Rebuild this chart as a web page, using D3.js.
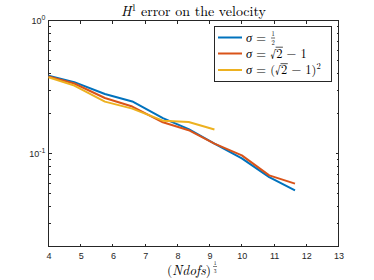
<!DOCTYPE html>
<html><head><meta charset="utf-8">
<script src="https://cdn.jsdelivr.net/npm/d3@7"></script>
<style>body{margin:0;background:#fff}svg{display:block}</style>
</head><body>
<svg id="c" width="374" height="280"></svg>
<script>
const xs = [4, 4.8, 5.75, 6.6, 7.55, 8.35, 9.15, 10, 10.85, 11.65];
const blue = [0.385, 0.345, 0.281, 0.247, 0.185, 0.153, 0.119, 0.092, 0.0666, 0.0529];
const red = [0.38, 0.337, 0.262, 0.226, 0.172, 0.150, 0.119, 0.097, 0.0686, 0.0594];
const yellow = [0.375, 0.325, 0.246, 0.218, 0.177, 0.173, 0.152];
const xTicks = [4,5,6,7,8,9,10,11,12,13];
const yMajor = [1, 0.1];
const yExps = ["0", "-1"];
const yMinor = [0.02,0.03,0.04,0.05,0.06,0.07,0.08,0.09,0.2,0.3,0.4,0.5,0.6,0.7,0.8,0.9];

const svg = d3.select("#c");
const L=48.5, R=338.5, T=20.7, B=246.5;
const x = d3.scaleLinear().domain([4,13]).range([L,R]);
const y = d3.scaleLog().domain([0.02,1]).range([B,T]);
const ax = "#262626";
const tf = "Helvetica, Arial, 'Liberation Sans', sans-serif";
const serif = "'Latin Modern Roman','CMU Serif','Liberation Serif',serif";

// box
svg.append("rect").attr("x",L).attr("y",T).attr("width",R-L).attr("height",B-T)
  .attr("fill","#fff").attr("stroke",ax).attr("stroke-width",1).attr("shape-rendering","crispEdges");

// x ticks
const xa = d3.axisBottom(x).tickValues(xTicks).tickSize(0).tickFormat(d3.format("d"));
const gx = svg.append("g").attr("transform",`translate(0,${B})`).call(xa);
gx.select(".domain").remove();
gx.selectAll("text").attr("font-family",tf).attr("font-size",9).attr("fill",ax).attr("dy","1.05em");
xTicks.forEach(t=>{
  svg.append("line").attr("x1",x(t)).attr("x2",x(t)).attr("y1",B).attr("y2",B-3).attr("stroke",ax).attr("shape-rendering","crispEdges");
  svg.append("line").attr("x1",x(t)).attr("x2",x(t)).attr("y1",T).attr("y2",T+3).attr("stroke",ax).attr("shape-rendering","crispEdges");
});
// y ticks
yMajor.forEach((t,i)=>{
  [[L,L+3],[R,R-3]].forEach(p=>svg.append("line").attr("x1",p[0]).attr("x2",p[1]).attr("y1",y(t)).attr("y2",y(t)).attr("stroke",ax).attr("shape-rendering","crispEdges"));
  const tx = svg.append("text").attr("x",L-3).attr("y",y(t)+3.5).attr("text-anchor","end")
    .attr("font-family",tf).attr("font-size",9).attr("fill",ax);
  tx.append("tspan").text("10");
  tx.append("tspan").attr("dy",-4).attr("font-size",7).text(yExps[i]);
});
yMinor.forEach(t=>{
  [[L,L+2],[R,R-2]].forEach(p=>svg.append("line").attr("x1",p[0]).attr("x2",p[1]).attr("y1",y(t)).attr("y2",y(t)).attr("stroke",ax).attr("shape-rendering","crispEdges"));
});

// lines
const series = [
  {vals: blue, color:"#0072BD"},
  {vals: red, color:"#D95319"},
  {vals: yellow, color:"#EDB120"}
];
const line = d3.line().x(d=>x(d[0])).y(d=>y(d[1]));
series.forEach(s=>{
  svg.append("path").datum(s.vals.map((v,i)=>[xs[i],v])).attr("d",line)
    .attr("fill","none").attr("stroke",s.color).attr("stroke-width",2).attr("stroke-linejoin","round");
});

// title
const ti = svg.append("text").attr("x",(L+R)/2).attr("y",15.5).attr("text-anchor","middle")
  .attr("font-family",serif).attr("font-size",14).attr("fill","#000");
ti.append("tspan").attr("font-style","italic").text("H");
ti.append("tspan").attr("dy",-5).attr("font-size",9.5).text("1");
ti.append("tspan").attr("dy",5).text(" error on the velocity");

// x label
const xl = svg.append("text").attr("x",167).attr("y",275).attr("text-anchor","start")
  .attr("font-family",serif).attr("font-size",13.5).attr("fill","#000");
xl.append("tspan").text("(");
xl.append("tspan").attr("font-style","italic").text("Ndofs");
xl.append("tspan").text(")");
const fx = 167 + xl.node().getComputedTextLength() + 4;
svg.append("text").attr("x",fx).attr("y",264.5).attr("font-family",serif).attr("font-size",5.5).attr("text-anchor","middle").text("1");
svg.append("line").attr("x1",fx-2).attr("x2",fx+2).attr("y1",266.5).attr("y2",266.5).attr("stroke","#000").attr("stroke-width",0.5);
svg.append("text").attr("x",fx).attr("y",272.5).attr("font-family",serif).attr("font-size",5.5).attr("text-anchor","middle").text("3");

// legend
const lg = svg.append("g");
lg.append("rect").attr("x",214.5).attr("y",26.5).attr("width",117).attr("height",54.5)
  .attr("fill","#fff").attr("stroke",ax).attr("stroke-width",1).attr("shape-rendering","crispEdges");
const rows = [37.5, 53.5, 70];
series.forEach((s,i)=>{
  lg.append("line").attr("x1",218).attr("x2",242).attr("y1",rows[i]).attr("y2",rows[i]).attr("stroke",s.color).attr("stroke-width",2);
});
const tx0 = 246;
function lt(i){
  return lg.append("text").attr("x",tx0).attr("y",rows[i]+4).attr("font-family",serif).attr("font-size",12.5).attr("fill","#000");
}
// row 1: sigma = 1/2
let t1 = lt(0);
t1.append("tspan").attr("font-style","italic").text("σ");
t1.append("tspan").text(" =");
let w1 = t1.node().getComputedTextLength();
const f1 = tx0 + w1 + 7;
lg.append("text").attr("x",f1).attr("y",rows[0]-1.5).attr("font-family",serif).attr("font-size",6.5).attr("text-anchor","middle").text("1");
lg.append("line").attr("x1",f1-2).attr("x2",f1+2).attr("y1",rows[0]+0.5).attr("y2",rows[0]+0.5).attr("stroke","#000").attr("stroke-width",0.6);
lg.append("text").attr("x",f1).attr("y",rows[0]+7).attr("font-family",serif).attr("font-size",6.5).attr("text-anchor","middle").text("2");
// row 2
let t2 = lt(1);
t2.append("tspan").attr("font-style","italic").text("σ");
t2.append("tspan").text(" = √");
let wa = t2.node().getComputedTextLength();
t2.append("tspan").text("2");
let wb = t2.node().getComputedTextLength();
t2.append("tspan").text(" − 1");
lg.append("line").attr("x1",tx0+wa-0.5).attr("x2",tx0+wb+0.5).attr("y1",rows[1]-6.3).attr("y2",rows[1]-6.3).attr("stroke","#000").attr("stroke-width",0.7);
// row 3
let t3 = lt(2);
t3.append("tspan").attr("font-style","italic").text("σ");
t3.append("tspan").text(" = (√");
let wc = t3.node().getComputedTextLength();
t3.append("tspan").text("2");
let wd = t3.node().getComputedTextLength();
t3.append("tspan").text(" − 1)");
t3.append("tspan").attr("dy",-5).attr("font-size",8.5).text("2");
lg.append("line").attr("x1",tx0+wc-0.5).attr("x2",tx0+wd+0.5).attr("y1",rows[2]-6.3).attr("y2",rows[2]-6.3).attr("stroke","#000").attr("stroke-width",0.7);
</script>
</body></html>
